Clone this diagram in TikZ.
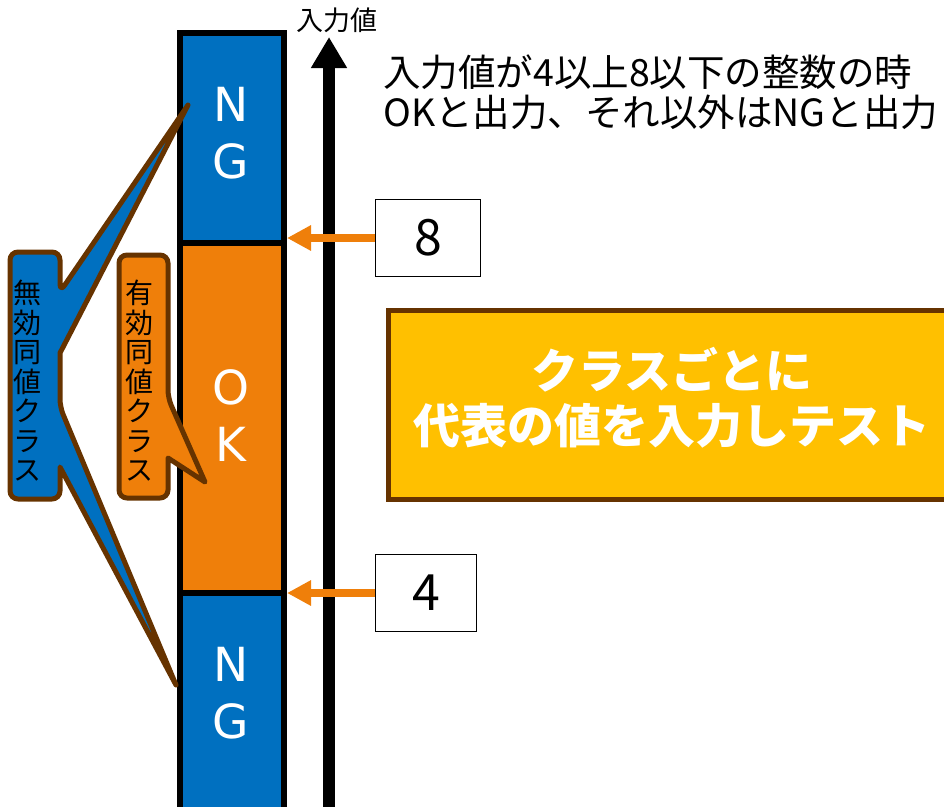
\documentclass[tikz,border=0pt]{standalone}
\usepackage{fontspec}
\setmainfont{Noto Sans CJK JP}
\newfontfamily\latinfont{DejaVu Sans}
\usetikzlibrary{arrows.meta}
\definecolor{ngblue}{HTML}{0070C0}
\definecolor{okorange}{HTML}{EF7F0A}
\definecolor{calbrown}{HTML}{663300}
\definecolor{boxyellow}{HTML}{FFC000}
\tikzset{
  colpart/.style={draw=black, line width=6, minimum width=104, inner sep=0},
  coltext/.style={text=white, align=center, font=\latinfont\fontsize{47pt}{57pt}\selectfont},
  valbox/.style={draw=black, line width=1.8, fill=white, minimum width=105, minimum height=77, inner sep=0, font=\fontsize{50pt}{55pt}\selectfont},
  valarrow/.style={draw=okorange, line width=8, -{Triangle[width=24pt,length=24pt]}},
  callout/.style={draw=calbrown, line width=5, line join=round},
  vtext/.style={align=center, text=black, inner sep=0, font=\fontsize{28pt}{29.5pt}\selectfont},
}
\begin{document}
\begin{tikzpicture}[x=1pt,y=-1pt]
\useasboundingbox (0,0) rectangle (944,806);
\clip (0,0) rectangle (944,806);
% column
\node[colpart, fill=ngblue, minimum height=210] (ngtop) at (232,138) {};
\node[colpart, fill=okorange, minimum height=350] (ok) at (232,418) {};
\node[colpart, fill=ngblue, minimum height=240] (ngbot) at (232,713) {};
\node[coltext] (ngtoptext) at (231,133) {N\\G};
\node[coltext] (oktext) at (231,416) {O\\K};
\node[coltext] (ngbottext) at (231,693) {N\\G};
% axis
\coordinate (axb) at (329,820);
\coordinate (axt) at (329,37);
\draw[line width=12, -{Triangle[width=34pt,length=31pt]}] (axb) -- (axt);
\node[font=\fontsize{27pt}{29pt}\selectfont, inner sep=0] (axlabel) at (337,20) {入力値};
% spec text
\node[anchor=west, align=left, inner sep=0, font=\fontsize{37.5pt}{40pt}\selectfont] (spec) at (383,92) {入力値が4以上8以下の整数の時\\OKと出力、それ以外はNGと出力};
% value boxes
\node[valbox] (b8) at (428,238) {8};
\node[valbox, minimum width=101] (b4) at (426,593) {4};
\draw[valarrow] (b8.west) -- (ok.east |- b8.west);
\draw[valarrow] (b4.west) -- (ok.east |- b4.west);
% yellow box
\node[draw=calbrown, fill=boxyellow, line width=5, minimum width=570, minimum height=189, inner sep=0] (ybox) at (673,405) {};
\node[text=white, align=center, inner sep=0, font=\bfseries\fontsize{47pt}{55pt}\selectfont] (ytext) at (672,398) {クラスごとに\\代表の値を入力しテスト};
% blue callout
\draw[callout, fill=ngblue, rounded corners=8] (35,252) -- (60,252) -- (60,292) [sharp corners] -- (188,105) -- (60,353) [rounded corners=8] -- (60,407) [sharp corners] -- (176,685) -- (60,467) [rounded corners=8] -- (60,499) -- (10,499) -- (10,252) -- cycle;
\node[vtext] (invalid) at (27,381) {無\\効\\同\\値\\ク\\ラ\\ス};
% orange callout
\draw[callout, fill=okorange, rounded corners=8] (143,255) -- (168,255) -- (168,398) [sharp corners] -- (205,482) -- (168,458) [rounded corners=8] -- (168,498) -- (119,498) -- (119,255) -- cycle;
\node[vtext] (valid) at (139,381) {有\\効\\同\\値\\ク\\ラ\\ス};
\end{tikzpicture}
\end{document}
